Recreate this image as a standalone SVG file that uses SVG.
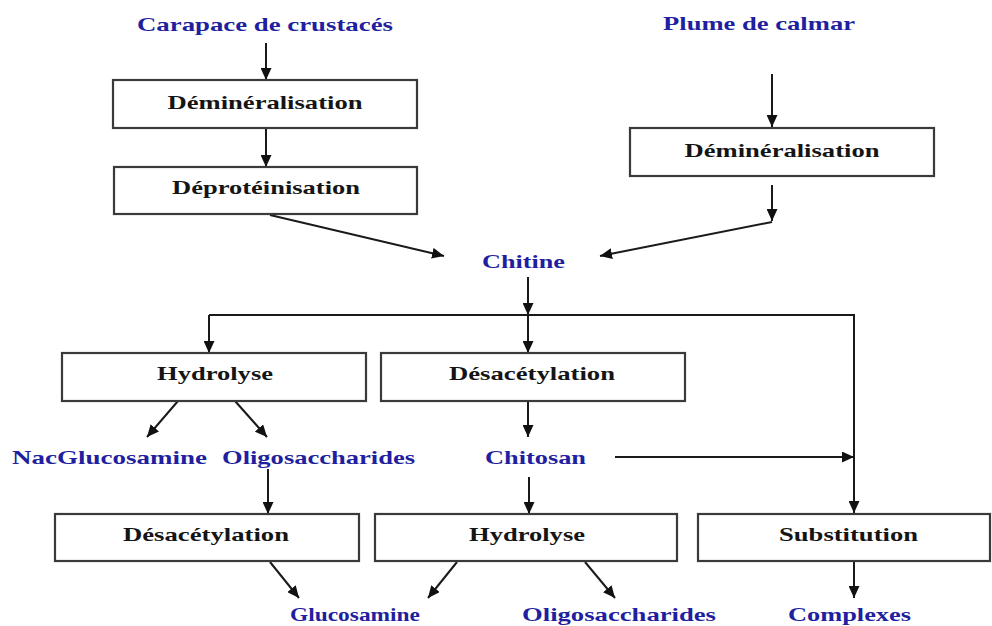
<svg xmlns="http://www.w3.org/2000/svg" width="992" height="626" viewBox="0 0 992 626">
<style>
  .box{fill:#fff;stroke:#3a3a3a;stroke-width:2.2}
  .t{font-family:"Liberation Serif","Times New Roman",serif;font-weight:bold;font-size:19px;text-anchor:middle;fill:#151515}
  .b{font-family:"Liberation Serif","Times New Roman",serif;font-weight:bold;font-size:19px;text-anchor:middle;fill:#1f1fa0}
  .c{fill:none;stroke:#1a1a1a;stroke-width:2}
</style>
<defs>
  <marker id="ah" markerUnits="userSpaceOnUse" markerWidth="13" markerHeight="11" refX="12" refY="5.5" orient="auto">
    <path d="M0,0 L12,5.5 L0,11 Z" fill="#111"/>
  </marker>
</defs>
<rect width="992" height="626" fill="#fff"/>
<g id="connectors">
  <line class="c" x1="266" y1="43" x2="266" y2="80" marker-end="url(#ah)"/>
  <line class="c" x1="266" y1="129" x2="266" y2="167" marker-end="url(#ah)"/>
  <line class="c" x1="270" y1="215" x2="444" y2="256" marker-end="url(#ah)"/>
  <line class="c" x1="772" y1="74" x2="772" y2="127" marker-end="url(#ah)"/>
  <line class="c" x1="772" y1="185" x2="772" y2="221" marker-end="url(#ah)"/>
  <line class="c" x1="772" y1="222" x2="600" y2="256" marker-end="url(#ah)"/>
  <line class="c" x1="528" y1="277" x2="528" y2="315" marker-end="url(#ah)"/>
  <polyline class="c" points="209,315 854,315 854,513" marker-end="url(#ah)"/>
  <line class="c" x1="209" y1="315" x2="209" y2="353" marker-end="url(#ah)"/>
  <line class="c" x1="528" y1="315" x2="528" y2="353" marker-end="url(#ah)"/>
  <line class="c" x1="178" y1="401" x2="147" y2="437" marker-end="url(#ah)"/>
  <line class="c" x1="235" y1="401" x2="267" y2="437" marker-end="url(#ah)"/>
  <line class="c" x1="528" y1="401" x2="528" y2="437" marker-end="url(#ah)"/>
  <line class="c" x1="615" y1="457" x2="854" y2="457" marker-end="url(#ah)"/>
  <line class="c" x1="268" y1="469" x2="268" y2="514" marker-end="url(#ah)"/>
  <line class="c" x1="529" y1="477" x2="529" y2="514" marker-end="url(#ah)"/>
  <line class="c" x1="270" y1="562" x2="299" y2="598" marker-end="url(#ah)"/>
  <line class="c" x1="457" y1="562" x2="428" y2="598" marker-end="url(#ah)"/>
  <line class="c" x1="585" y1="562" x2="615" y2="598" marker-end="url(#ah)"/>
  <line class="c" x1="854" y1="562" x2="854" y2="598" marker-end="url(#ah)"/>
</g>
<g id="carapace"><text class="b" x="265" y="31" textLength="256" lengthAdjust="spacingAndGlyphs">Carapace de crustacés</text></g>
<g id="demin1"><rect class="box" x="113" y="80" width="304" height="48"/><text class="t" x="265" y="109" textLength="195" lengthAdjust="spacingAndGlyphs">Déminéralisation</text></g>
<g id="deprot"><rect class="box" x="114" y="167" width="303" height="47"/><text class="t" x="266" y="194" textLength="188" lengthAdjust="spacingAndGlyphs">Déprotéinisation</text></g>
<g id="plume"><text class="b" x="759" y="30" textLength="192" lengthAdjust="spacingAndGlyphs">Plume de calmar</text></g>
<g id="demin2"><rect class="box" x="630" y="128" width="304" height="48"/><text class="t" x="782" y="157" textLength="195" lengthAdjust="spacingAndGlyphs">Déminéralisation</text></g>
<g id="chitine"><text class="b" x="523.5" y="268" textLength="83" lengthAdjust="spacingAndGlyphs">Chitine</text></g>
<g id="hydrolyse1"><rect class="box" x="62" y="353" width="304" height="48"/><text class="t" x="215" y="380" textLength="116" lengthAdjust="spacingAndGlyphs">Hydrolyse</text></g>
<g id="desac1"><rect class="box" x="381" y="353" width="304" height="48"/><text class="t" x="532" y="380" textLength="166" lengthAdjust="spacingAndGlyphs">Désacétylation</text></g>
<g id="nacglucosamine"><text class="b" x="109.5" y="464" textLength="195" lengthAdjust="spacingAndGlyphs">NacGlucosamine</text></g>
<g id="oligo1"><text class="b" x="318.5" y="464" textLength="193" lengthAdjust="spacingAndGlyphs">Oligosaccharides</text></g>
<g id="chitosan"><text class="b" x="535.5" y="464" textLength="101" lengthAdjust="spacingAndGlyphs">Chitosan</text></g>
<g id="desac2"><rect class="box" x="55" y="514" width="304" height="47"/><text class="t" x="206" y="541" textLength="166" lengthAdjust="spacingAndGlyphs">Désacétylation</text></g>
<g id="hydrolyse2"><rect class="box" x="375" y="514" width="302" height="47"/><text class="t" x="527" y="541" textLength="116" lengthAdjust="spacingAndGlyphs">Hydrolyse</text></g>
<g id="substitution"><rect class="box" x="698" y="514" width="292" height="47"/><text class="t" x="848.5" y="541" textLength="139" lengthAdjust="spacingAndGlyphs">Substitution</text></g>
<g id="glucosamine"><text class="b" x="355" y="621" textLength="130" lengthAdjust="spacingAndGlyphs">Glucosamine</text></g>
<g id="oligo2"><text class="b" x="619" y="621" textLength="194" lengthAdjust="spacingAndGlyphs">Oligosaccharides</text></g>
<g id="complexes"><text class="b" x="849.5" y="621" textLength="123" lengthAdjust="spacingAndGlyphs">Complexes</text></g>
</svg>
